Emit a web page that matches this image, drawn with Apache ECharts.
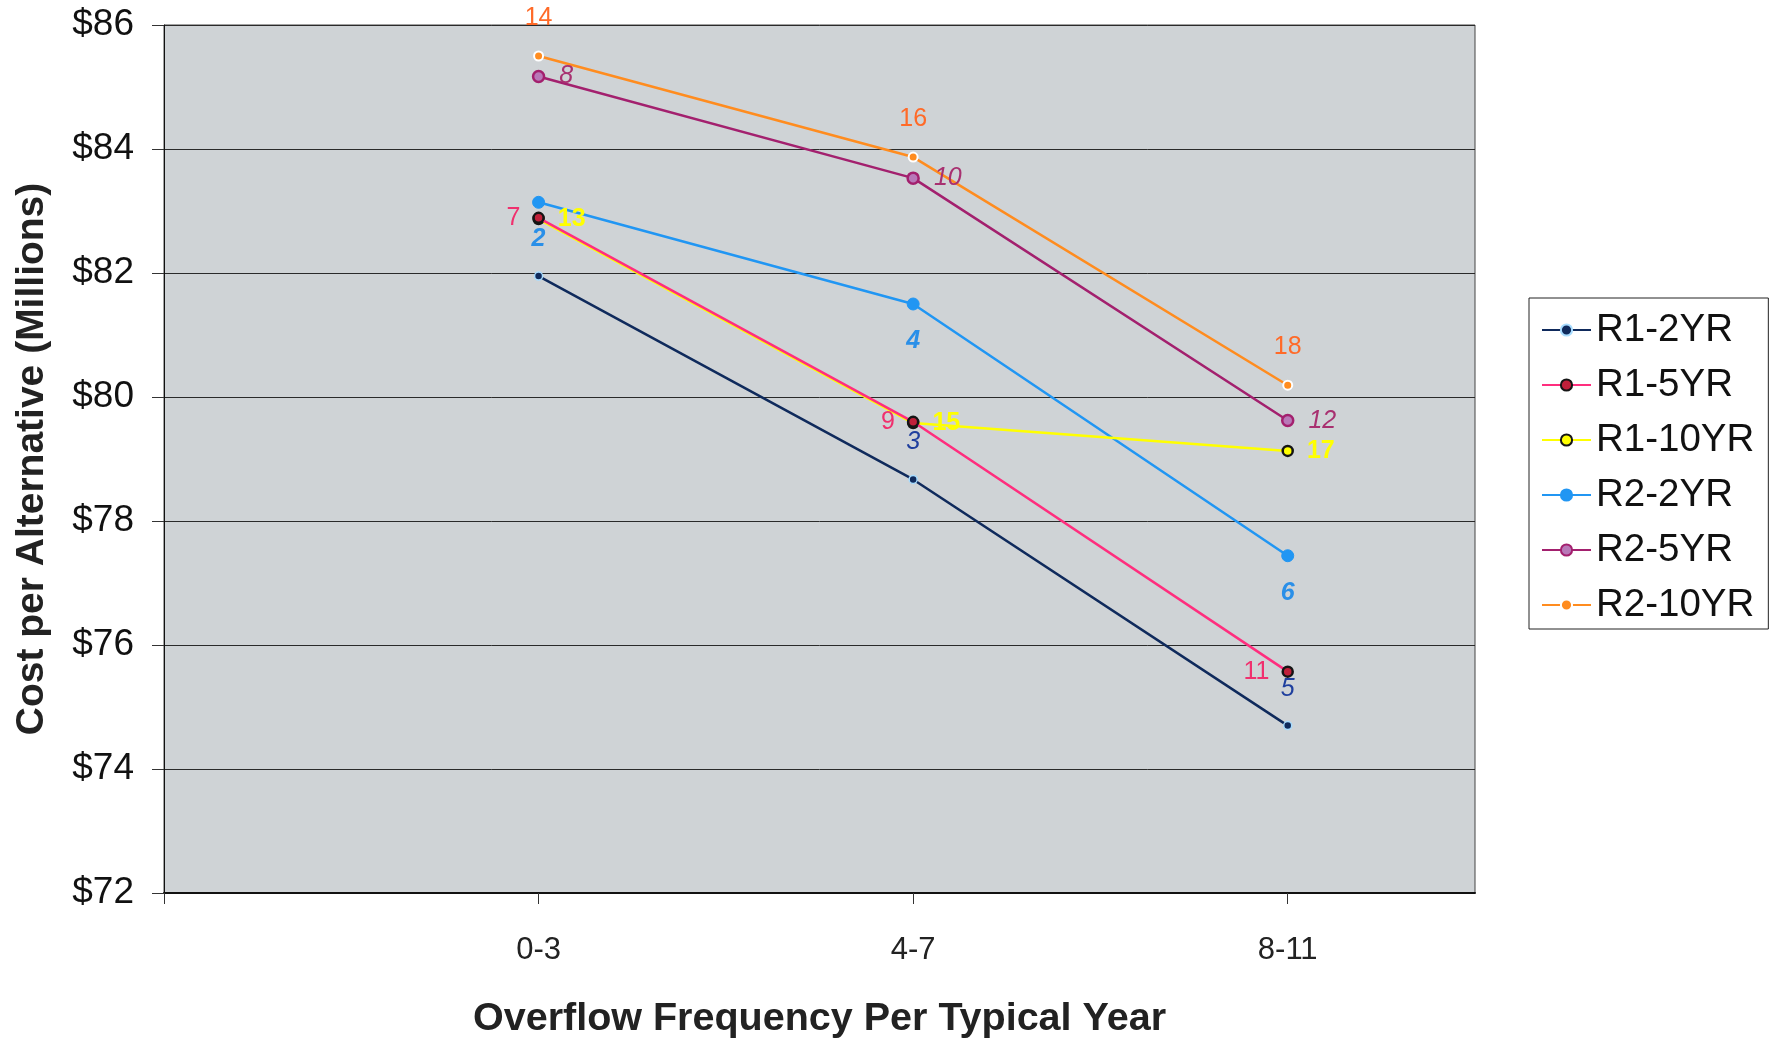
<!DOCTYPE html>
<html><head><meta charset="utf-8">
<script src="https://cdn.jsdelivr.net/npm/echarts@6/dist/echarts.min.js"></script>
<style>html,body{margin:0;padding:0;background:#fff}#c{width:1775px;height:1042px}</style>
</head><body><div id="c"></div>
<script>
// ---- data ----
const categories = ['0-3', '4-7', '8-11'];
const seriesNames = ['R1-2YR', 'R1-5YR', 'R1-10YR', 'R2-2YR', 'R2-5YR', 'R2-10YR'];
const r1_2yr  = [81.95, 78.67, 74.70];
const r1_5yr  = [82.89, 79.60, 75.57];
const r1_10yr = [82.87, 79.58, 79.13];
const r2_2yr  = [83.14, 81.50, 77.44];
const r2_5yr  = [85.17, 83.53, 79.62];
const r2_10yr = [85.50, 83.87, 80.19];
const r1_2yr_labels  = ['', '3', '5'];
const r1_5yr_labels  = ['7', '9', '11'];
const r1_10yr_labels = ['13', '15', '17'];
const r2_2yr_labels  = ['2', '4', '6'];
const r2_5yr_labels  = ['8', '10', '12'];
const r2_10yr_labels = ['14', '16', '18'];
const xTickValues = [0, 1, 2, 3];
const yMin = 72, yMax = 86, yStep = 2;

const FONT = "'Liberation Sans', Arial, Helvetica, sans-serif";

function pts(vals) { return vals.map((v, i) => [i + 1, v]); }

function mk(name, vals, labels, st) {
  return {
    name: name, type: 'line', data: pts(vals), z: st.z || 2,
    symbol: 'circle', symbolSize: st.size,
    lineStyle: { color: st.line, width: 2.5 },
    itemStyle: { color: st.fill, borderColor: st.border, borderWidth: st.bw },
    emphasis: { disabled: true },
    label: Object.assign({
      show: true, fontFamily: FONT, fontSize: 25, color: st.lc,
      fontStyle: st.italic ? 'italic' : 'normal', fontWeight: st.bold ? 'bold' : 'normal',
      formatter: p => labels[p.dataIndex]
    }, st.lpos)
  };
}

const series = [
  mk(seriesNames[0], r1_2yr, r1_2yr_labels, { line: '#0f2a5c', fill: '#0f2a5c', border: '#a8dcff', bw: 1.5, size: 8,
     lc: '#1f3f9e', italic: true, lpos: { position: 'inside', offset: [0, -37] } }),
  mk(seriesNames[1], r1_5yr, r1_5yr_labels, { line: '#ff2e7e', fill: '#c0203a', border: '#151515', bw: 2.5, size: 10, z: 4,
     lc: '#f0306e', lpos: { position: 'left', distance: 12 } }),
  mk(seriesNames[2], r1_10yr, r1_10yr_labels, { line: '#ffff00', fill: '#ffff00', border: '#151515', bw: 2.5, size: 10, z: 3,
     lc: '#ffff00', bold: true, lpos: { position: 'right', distance: 13 } }),
  mk(seriesNames[3], r2_2yr, r2_2yr_labels, { line: '#2196f3', fill: '#2196f3', border: '#2196f3', bw: 1, size: 12,
     lc: '#2a8fe8', italic: true, bold: true, lpos: { position: 'inside', offset: [0, 37] } }),
  mk(seriesNames[4], r2_5yr, r2_5yr_labels, { line: '#a3206e', fill: '#b878b8', border: '#a3206e', bw: 2.5, size: 11,
     lc: '#a83070', italic: true, lpos: { position: 'right', distance: 14 } }),
  mk(seriesNames[5], r2_10yr, r2_10yr_labels, { line: '#ff8c1f', fill: '#ff8c1f', border: '#ffffff', bw: 2, size: 9,
     lc: '#ff6a28', lpos: { position: 'inside', offset: [0, -38] } })
];

const chart = echarts.init(document.getElementById('c'), null, { renderer: 'canvas' });
chart.setOption({
  animation: false,
  backgroundColor: '#ffffff',
  textStyle: { fontFamily: FONT },
  grid: { left: 164, right: 300, top: 25, bottom: 149, show: true, containLabel: false,
          outerBoundsMode: 'none',
          backgroundColor: '#cfd3d6', borderColor: '#444', borderWidth: 1 },
  legend: {
    orient: 'vertical', left: 1529, top: 298,
    data: seriesNames,
    itemWidth: 49, itemHeight: 14, itemGap: 15,
    padding: [12, 14, 4, 12],
    borderColor: '#222', borderWidth: 1, backgroundColor: '#fff',
    textStyle: { fontFamily: FONT, fontSize: 38.5, color: '#111', lineHeight: 40, padding: [0, 0, 0, 0] }
  },
  xAxis: {
    type: 'value', min: 0, max: 3.5, interval: 1,
    name: 'Overflow Frequency Per Typical Year', nameLocation: 'middle', nameGap: 106,
    nameTextStyle: { fontFamily: FONT, fontSize: 39.5, fontWeight: 'bold', color: '#222' },
    axisLine: { show: true, lineStyle: { color: '#111', width: 2 } },
    axisTick: { show: true, length: 11, customValues: xTickValues, lineStyle: { color: '#333' } },
    axisLabel: { margin: 42, fontFamily: FONT, fontSize: 31, color: '#222',
      formatter: v => (Number.isInteger(v) && categories[v - 1]) ? categories[v - 1] : '' },
    splitLine: { show: false }
  },
  yAxis: {
    type: 'value', min: yMin, max: yMax, interval: yStep,
    name: 'Cost per Alternative (Millions)', nameLocation: 'middle', nameGap: 112,
    nameTextStyle: { fontFamily: FONT, fontSize: 39, fontWeight: 'bold', color: '#222' },
    axisLine: { show: true, lineStyle: { color: '#111', width: 1 } },
    axisTick: { show: true, length: 12, lineStyle: { color: '#333' } },
    axisLabel: { margin: 30, fontFamily: FONT, fontSize: 37, color: '#111', formatter: v => '$' + v },
    splitLine: { show: true, lineStyle: { color: '#2a2a2a', width: 1 } }
  },
  series: series
});
</script></body></html>
